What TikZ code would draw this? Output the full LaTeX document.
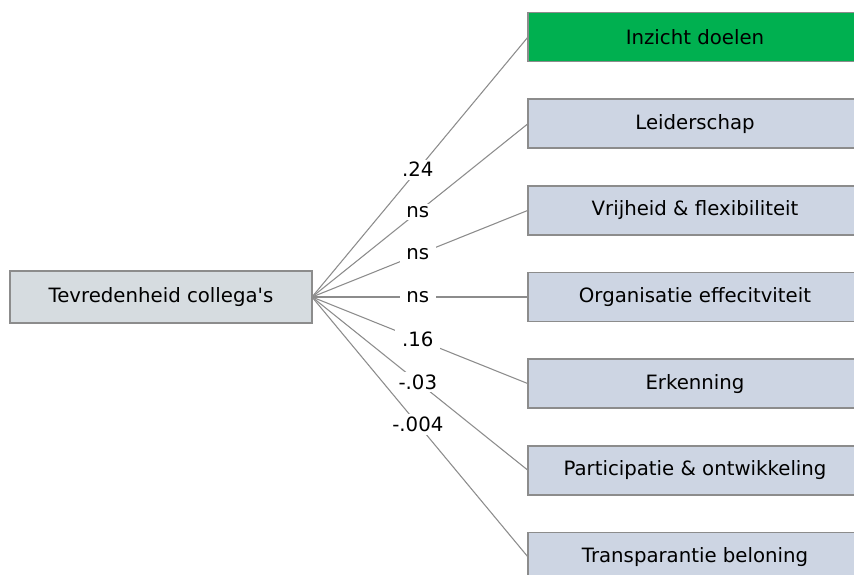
\documentclass[tikz,border=0pt]{standalone}
\usepackage{fontspec}
\setmainfont{DejaVu Sans}
\usetikzlibrary{positioning}

\definecolor{boxgray}{RGB}{214,220,224}
\definecolor{boxblue}{RGB}{205,213,227}
\definecolor{boxgreen}{RGB}{0,176,80}
\definecolor{linegray}{RGB}{140,140,140}

\begin{document}
\begin{tikzpicture}[x=0.75pt,y=-0.75pt,node distance=28.25pt,
                    font=\fontsize{14.8pt}{17pt}\selectfont]
  \tikzset{
    factor/.style={draw=linegray,line width=1.2pt,inner sep=0pt,outer sep=0pt,
                   minimum width=250.5pt,minimum height=36.75pt,fill=boxblue},
    source/.style={factor,minimum width=226.5pt,minimum height=39pt,fill=boxgray},
    coef/.style={fill=white,inner xsep=5pt,inner ysep=2pt,pos=0.49}
  }
  \useasboundingbox (0,0) rectangle (854,575);
  \clip (0,0) rectangle (854,575);

  \node[source,anchor=west] (T) at (10,297) {Tevredenheid collega\textquotesingle s};

  \node[factor,anchor=west,fill=boxgreen] (F1) at (528,37) {Inzicht doelen};
  \node[factor] (F2) [below=of F1] {Leiderschap};
  \node[factor] (F3) [below=of F2] {Vrijheid \& flexibiliteit};
  \node[factor] (F4) [below=of F3] {Organisatie effecitviteit};
  \node[factor] (F5) [below=of F4] {Erkenning};
  \node[factor] (F6) [below=of F5] {Participatie \& ontwikkeling};
  \node[factor] (F7) [below=of F6] {Transparantie beloning};

  \path[draw=linegray,line width=0.8pt]
        (T.east) edge node[coef] {.24}   (F1.west)
        (T.east) edge node[coef] {ns}    (F2.west)
        (T.east) edge node[coef] {ns}    (F3.west)
        (T.east) edge node[coef] {ns}    (F4.west)
        (T.east) edge node[coef] {.16}   (F5.west)
        (T.east) edge node[coef] {-.03}  (F6.west)
        (T.east) edge node[coef] {-.004} (F7.west);
\end{tikzpicture}
\end{document}
